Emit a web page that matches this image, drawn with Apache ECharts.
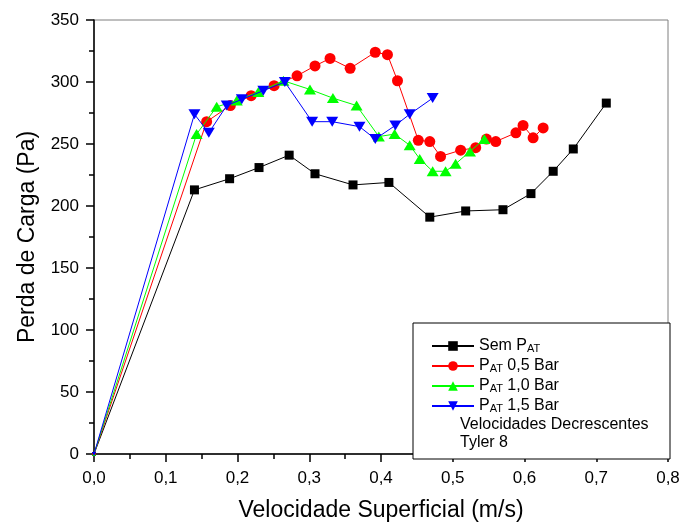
<!DOCTYPE html>
<html>
<head>
<meta charset="utf-8">
<script src="https://cdn.jsdelivr.net/npm/echarts@6/dist/echarts.min.js"></script>
<style>html,body{margin:0;padding:0;background:#fff}#c{width:684px;height:527px}</style>
</head>
<body>
<div id="c"></div>
<script>
// ---- data ----
var semPatX = [0, 0.140, 0.189, 0.230, 0.272, 0.308, 0.361, 0.411, 0.468, 0.518, 0.570, 0.609, 0.640, 0.668, 0.714];
var semPatY = [0, 213, 222, 231, 241, 226, 217, 219, 191, 196, 197, 210, 228, 246, 283];

var pat05X = [0, 0.157, 0.190, 0.219, 0.251, 0.283, 0.308, 0.329, 0.357, 0.392, 0.409, 0.423, 0.452, 0.468, 0.483, 0.511, 0.532, 0.547, 0.560, 0.588, 0.598, 0.612, 0.626];
var pat05Y = [0, 268, 281, 289, 297, 305, 313, 319, 311, 324, 322, 301, 253, 252, 240, 245, 247, 254, 252, 259, 265, 255, 263];

var pat10X = [0, 0.143, 0.171, 0.199, 0.229, 0.264, 0.301, 0.333, 0.366, 0.397, 0.419, 0.440, 0.454, 0.472, 0.490, 0.504, 0.524, 0.544];
var pat10Y = [0, 258, 280, 285, 292, 301, 294, 287, 281, 256, 258, 249, 238, 228, 228, 234, 244, 254];

var pat15X = [0, 0.140, 0.160, 0.185, 0.206, 0.236, 0.266, 0.304, 0.332, 0.370, 0.392, 0.420, 0.440, 0.472];
var pat15Y = [0, 274, 259, 281, 286, 293, 300, 268, 268, 264, 254, 265, 274, 287];

var seriesNames = ['Sem PAT', 'PAT 0,5 Bar', 'PAT 1,0 Bar', 'PAT 1,5 Bar'];
var legendMain = ['Sem P', 'P', 'P', 'P'];
var legendSub = ['AT', 'AT', 'AT', 'AT'];
var legendTail = ['', ' 0,5 Bar', ' 1,0 Bar', ' 1,5 Bar'];
var legendNotes = ['Velocidades Decrescentes', 'Tyler 8'];

var xTickLabels = ['0,0', '0,1', '0,2', '0,3', '0,4', '0,5', '0,6', '0,7', '0,8'];
var yTickLabels = ['0', '50', '100', '150', '200', '250', '300', '350'];

var xTitle = 'Velocidade Superficial (m/s)';
var yTitle = 'Perda de Carga (Pa)';

// ---- build ----
function pairs(xs, ys) { return xs.map(function (x, i) { return [x, ys[i]]; }); }
var FONT = '"Liberation Sans", Arial, sans-serif';

var seriesDefs = [
  { x: semPatX, y: semPatY, color: '#000000', symbol: 'rect', size: 9, rot: 0 },
  { x: pat05X, y: pat05Y, color: '#ff0000', symbol: 'circle', size: 11, rot: 0 },
  { x: pat10X, y: pat10Y, color: '#00ff00', symbol: 'triangle', size: [12, 10], rot: 0 },
  { x: pat15X, y: pat15Y, color: '#0000ff', symbol: 'triangle', size: [12, 10], rot: 180 }
];

var series = seriesDefs.map(function (d, i) {
  var data = pairs(d.x, d.y).map(function (p) {
    if (p[0] === 0 && p[1] === 0) return { value: p, symbolSize: 4 };
    return p;
  });
  return {
    name: seriesNames[i],
    type: 'line',
    data: data,
    symbol: d.symbol,
    symbolSize: d.size,
    symbolRotate: d.rot,
    showAllSymbol: true,
    clip: false,
    animation: false,
    lineStyle: { color: d.color, width: 1 },
    itemStyle: { color: d.color, borderWidth: 0 },
    z: 2 + i
  };
});

var legendTops = [332, 352, 372, 392];
var legends = seriesNames.map(function (n, i) {
  return {
    data: [n],
    orient: 'vertical',
    left: 431,
    top: legendTops[i],
    itemWidth: 42,
    itemHeight: 12,
    padding: 0,
    selectedMode: false,
    z: 10,
    formatter: function () {
      return '{t|' + legendMain[i] + '}{s|' + legendSub[i] + '}' + (legendTail[i] ? '{t|' + legendTail[i] + '}' : '');
    },
    textStyle: {
      fontFamily: FONT, fontSize: 16, color: '#000',
      rich: {
        t: { fontFamily: FONT, fontSize: 16, color: '#000', lineHeight: 16, verticalAlign: 'top' },
        s: { fontFamily: FONT, fontSize: 11, color: '#000', lineHeight: 11, verticalAlign: 'bottom', padding: [11, 0, 0, 0] }
      }
    }
  };
});

var option = {
  backgroundColor: '#ffffff',
  animation: false,
  grid: { left: 94, right: 16, top: 20, bottom: 71, show: true, borderColor: '#7f7f7f', borderWidth: 1, backgroundColor: 'transparent' },
  xAxis: {
    type: 'value', min: 0, max: 0.8, interval: 0.1,
    name: xTitle, nameLocation: 'middle', nameGap: 45,
    nameTextStyle: { fontFamily: FONT, fontSize: 23, color: '#000' },
    axisLine: { show: true, onZero: false, lineStyle: { color: '#000', width: 1.5 } },
    axisTick: { show: true, inside: false, length: 8, lineStyle: { color: '#000', width: 1.5 } },
    minorTick: { show: true, splitNumber: 2, length: 5, lineStyle: { color: '#000', width: 1.5 } },
    splitLine: { show: false },
    axisLabel: {
      margin: 16, fontFamily: FONT, fontSize: 17, color: '#000',
      formatter: function (v) { return xTickLabels[Math.round(v / 0.1)]; }
    }
  },
  yAxis: {
    type: 'value', min: 0, max: 350, interval: 50,
    name: yTitle, nameLocation: 'middle', nameGap: 55, nameRotate: 90,
    nameTextStyle: { fontFamily: FONT, fontSize: 23, color: '#000' },
    axisLine: { show: true, onZero: false, lineStyle: { color: '#000', width: 1.5 } },
    axisTick: { show: true, inside: false, length: 8, lineStyle: { color: '#000', width: 1.5 } },
    minorTick: { show: true, splitNumber: 2, length: 5, lineStyle: { color: '#000', width: 1.5 } },
    splitLine: { show: false },
    axisLabel: {
      margin: 15, fontFamily: FONT, fontSize: 17, color: '#000',
      formatter: function (v) { return yTickLabels[Math.round(v / 50)]; }
    }
  },
  legend: legends,
  graphic: [
    { type: 'rect', x: 413, y: 323, shape: { x: 0, y: 0, width: 257, height: 136 }, style: { fill: '#fff', stroke: '#000', lineWidth: 1 }, z: 8 },
    { type: 'text', x: 460, y: 425, style: { text: legendNotes[0], fontSize: 16, fontFamily: FONT, fill: '#000', align: 'left', verticalAlign: 'middle' }, z: 10 },
    { type: 'text', x: 460, y: 443, style: { text: legendNotes[1], fontSize: 16, fontFamily: FONT, fill: '#000', align: 'left', verticalAlign: 'middle' }, z: 10 }
  ],
  series: series
};

var chart = echarts.init(document.getElementById('c'), null, { renderer: 'canvas' });
chart.setOption(option);
</script>
</body>
</html>
